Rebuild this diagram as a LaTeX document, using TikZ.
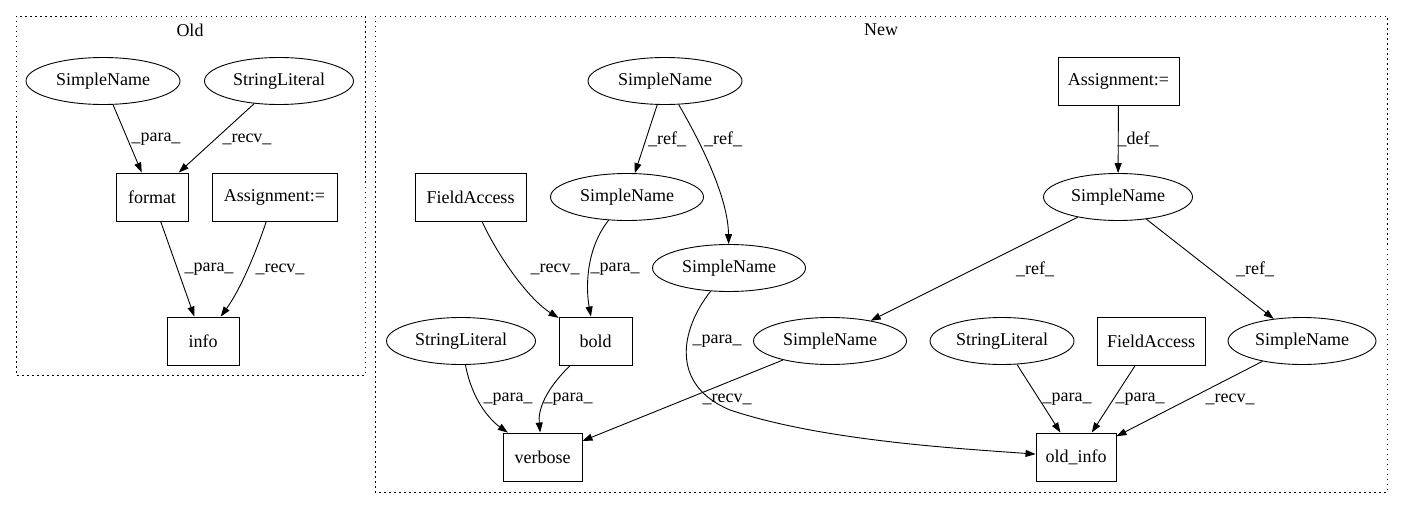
\documentclass[tikz,border=0pt]{standalone}
\usepackage{fontspec}
\setmainfont{Liberation Serif}
\usetikzlibrary{shapes.geometric,arrows.meta}

\tikzset{
  ell/.style={draw, ellipse, inner sep=0pt, minimum width=#1, minimum height=47pt},
  ell/.default=153pt,
  box/.style={draw, rectangle, inner sep=0pt, minimum width=#1, minimum height=48pt},
  edge/.style={-{Triangle[length=10pt,width=7pt]}},
  lbl/.style={inner sep=0pt},
  cluster/.style={dash pattern=on 1.5pt off 3.5pt}
}

\begin{document}
\begin{tikzpicture}[x=1pt,y=-1pt,line width=0.9pt,font=\fontsize{18}{20}\selectfont]
\useasboundingbox (0,0) rectangle (1420,508);

% clusters
\draw[cluster] (16,16) rectangle (365,375);
\draw[cluster] (375,16) rectangle (1387,492);
\node[lbl] (oldtitle) at (190,30) {Old};
\node[lbl] (newtitle) at (881,30) {New};

% old
\node[ell=154pt] (osimple) at (103,81) {SimpleName};
\node[ell=149pt] (ostring) at (279,81) {StringLiteral};
\node[box=72pt] (format) at (152,197) {format};
\node[box=125pt] (oassign) at (274.5,197) {Assignment:=};
\node[box=72pt] (info) at (203,341) {info};

\draw[edge] (osimple) -- (format);
\draw[edge] (ostring) -- (format);
\draw[edge] (format) -- (info);
\draw[edge] (oassign) .. controls (255,255) and (240,290) .. (info);

\node[lbl] (l1) at (156,139) {\_para\_};
\node[lbl] (l2) at (247,139) {\_recv\_};
\node[lbl] (l3) at (209,269) {\_para\_};
\node[lbl] (l4) at (280,269) {\_recv\_};

% new
\node[ell=154pt] (nsimpA) at (665,81) {SimpleName};
\node[ell] (nsimpB) at (627,197) {SimpleName};
\node[box=111pt] (nfieldA) at (470.5,197) {FieldAccess};
\node[ell] (nsimpC) at (729,268) {SimpleName};
\node[box=73pt] (bold) at (595.5,341) {bold};
\node[ell=149pt] (nstringA) at (461,341) {StringLiteral};
\node[ell] (nsimpD) at (830,341) {SimpleName};
\node[box=79pt] (verbose) at (542.5,457) {verbose};
\node[box=121pt] (nassign) at (1118.5,81) {Assignment:=};
\node[ell=149pt] (nsimpE) at (1118,197) {SimpleName};
\node[ell=144pt] (nstringB) at (1002,341) {StringLiteral};
\node[box=108pt] (nfieldB) at (1151,341) {FieldAccess};
\node[ell=148pt] (nsimpF) at (1302,341) {SimpleName};
\node[box=80pt] (oldinfo) at (1076,457) {old\_info};

\draw[edge] (nsimpA) -- (nsimpB);
\draw[edge] (nsimpA) .. controls (705,150) and (728,200) .. (nsimpC);
\draw[edge] (nfieldA) .. controls (500,260) and (530,300) .. (bold);
\draw[edge] (nsimpB) .. controls (585,250) and (586,290) .. (bold);
\draw[edge] (nstringA) .. controls (472,400) and (490,420) .. (verbose);
\draw[edge] (bold) .. controls (545,390) and (538,410) .. (verbose);
\draw[edge] (nsimpD) -- (verbose);
\draw[edge] (nsimpC) .. controls (680,330) and (670,385) .. (730,410)
  .. controls (820,440) and (950,448) .. (oldinfo);
\draw[edge] (nassign) -- (nsimpE);
\draw[edge] (nsimpE) -- (nsimpD);
\draw[edge] (nsimpE) -- (nsimpF);
\draw[edge] (nstringB) -- (oldinfo);
\draw[edge] (nfieldB) -- (oldinfo);
\draw[edge] (nsimpF) -- (oldinfo);

\node[lbl] (l5) at (667,139) {\_ref\_};
\node[lbl] (l6) at (723,139) {\_ref\_};
\node[lbl] (l7) at (555,269) {\_recv\_};
\node[lbl] (l8) at (615,269) {\_para\_};
\node[lbl] (l9) at (717,341) {\_para\_};
\node[lbl] (l10) at (508,399) {\_para\_};
\node[lbl] (l11) at (568,399) {\_para\_};
\node[lbl] (l12) at (727,399) {\_recv\_};
\node[lbl] (l13) at (1138,139) {\_def\_};
\node[lbl] (l14) at (1035,269) {\_ref\_};
\node[lbl] (l15) at (1255,269) {\_ref\_};
\node[lbl] (l16) at (1067,399) {\_para\_};
\node[lbl] (l17) at (1140,399) {\_para\_};
\node[lbl] (l18) at (1230,399) {\_recv\_};
\end{tikzpicture}
\end{document}
